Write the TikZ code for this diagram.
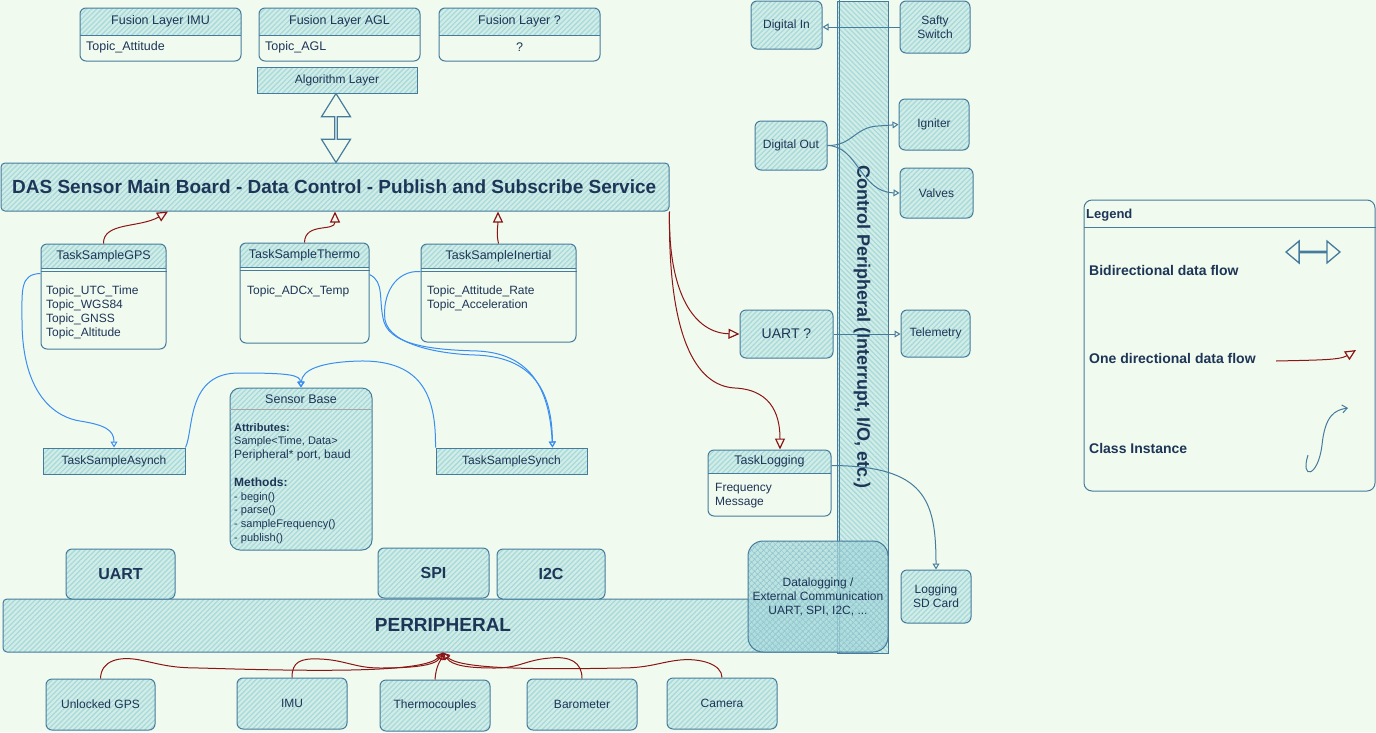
\documentclass[tikz,border=0pt]{standalone}
\usepackage{fontspec}
\setmainfont{Liberation Sans}
\usetikzlibrary{patterns.meta,arrows.meta,shapes.arrows,calc}
\definecolor{bg}{HTML}{F1FAEE}
\definecolor{stk}{HTML}{457B9D}
\definecolor{hat}{HTML}{A8DADC}
\definecolor{txt}{HTML}{1D3557}
\definecolor{rd}{HTML}{8B1414}
\definecolor{cls}{HTML}{3A8EF2}
\colorlet{hbase}{hat!42!bg}
\newcommand\fsz[2]{\fontsize{#1}{#2}\selectfont}
\tikzset{
 hatchfill/.style={preaction={fill=hbase}, pattern={Lines[angle=45,distance=3.6pt,line width=1.3pt]}, pattern color=hat},
 hatchnw/.style={preaction={fill=hbase}, pattern={Lines[angle=-45,distance=3.6pt,line width=1.3pt]}, pattern color=hat},
 xhatch/.style={preaction={fill=hat, fill opacity=0.7}, pattern={Hatch[angle=45,distance=4pt,line width=0.9pt]}, pattern color=hat!80!stk},
 bx/.style={draw=stk, line width=1pt, rounded corners=6pt, inner sep=2pt, text=txt, font=\fsz{12}{14}, align=center},
 hbx/.style={bx, hatchfill},
 lane/.style={draw=stk, line width=1pt, rounded corners=6pt, inner sep=0pt},
 lbl/.style={text=txt, font=\fsz{12.5}{14}, inner sep=0pt},
 bodytxt/.style={text=txt, font=\fsz{12}{14}, inner sep=0pt, align=left, anchor=north west},
 redarr/.style={draw=rd, line width=1pt, -{Triangle[open,length=11pt,width=10pt,line width=1.2pt]}},
 hubarr/.style={draw=rd, line width=1pt, -{Triangle[open,length=7pt,width=7pt]}},
 clsarr/.style={draw=cls, line width=1pt, -{Triangle[open,length=6pt,width=7pt]}},
 stkarr/.style={draw=stk, line width=1pt, -{Triangle[open,length=6pt,width=7pt]}},
}
\newcommand\mklane[7]{%
  \path[hatchfill] (#2,#6) [rounded corners=6pt] -- (#2,#3) -- (#4,#3) [sharp corners] -- (#4,#6) -- cycle;
  \node[lane, minimum width={(#4-#2)*1pt}, minimum height={(#5-#3)*1pt}] (#1) at ({(#2+#4)/2},{(#3+#5)/2}) {};
  \draw[draw=stk, line width=1pt] (#2,#6) -- (#4,#6);
  \node[lbl] (#1-t) at ({(#2+#4)/2},{(#3+#6)/2}) {#7};
}
\begin{document}
\begin{tikzpicture}[x=1pt,y=-1pt]
\useasboundingbox (0,0) rectangle (1376,732);
\fill[bg] (0,0) rectangle (1376,732);

% ---------- fusion layers ----------
\mklane{fimu}{80}{8}{241}{61}{35}{Fusion Layer IMU}
\node[lbl,anchor=west] (fimuB) at (86,47) {Topic\_Attitude};
\mklane{fagl}{259}{8}{420}{61}{35}{Fusion Layer AGL}
\node[lbl,anchor=west] (faglB) at (265,47) {Topic\_AGL};
\mklane{fq}{439}{8}{600}{61}{35}{Fusion Layer ?}
\node[lbl] (fqB) at (519.5,47) {?};

\node[hbx, rounded corners=0pt, minimum width=160pt, minimum height=26pt, inner sep=0pt] (alg) at (337,80) {Algorithm Layer};

% ---------- main board ----------
\node[hbx, rounded corners=4pt, minimum width=668pt, minimum height=48pt, inner sep=0pt] (board) at (335,187) {};
\node[lbl, anchor=west, font=\fsz{19}{23}\bfseries] (boardT) at (12,187) {DAS Sensor Main Board - Data Control - Publish and Subscribe Service};

\node[double arrow, draw=stk, line width=1.2pt, fill=bg, rotate=90, minimum height=69pt, minimum width=29pt, double arrow head extend=6pt, double arrow tip angle=64, inner sep=0pt] (bidir) at ($(alg.south)!0.5!(board.north)$) {};

% ---------- tasks ----------
\mklane{gps}{41}{244}{166}{349}{268}{TaskSampleGPS}
\draw[stk, line width=1pt] ([yshift=-28pt]gps.north west) -- ([yshift=-28pt]gps.north east);
\node[bodytxt] (gpsB) at (46,286) {Topic\_UTC\_Time\\Topic\_WGS84\\Topic\_GNSS\\Topic\_Altitude};

\mklane{thermo}{240}{243}{369}{343}{267}{TaskSampleThermo}
\draw[stk, line width=1pt] ([yshift=-28pt]thermo.north west) -- ([yshift=-28pt]thermo.north east);
\node[bodytxt] (thermoB) at (247,286) {Topic\_ADCx\_Temp};

\mklane{inertial}{421}{244}{576}{342}{268}{TaskSampleInertial}
\draw[stk, line width=1pt] ([yshift=-28pt]inertial.north west) -- ([yshift=-28pt]inertial.north east);
\node[bodytxt] (inertialB) at (427,286) {Topic\_Attitude\_Rate\\Topic\_Acceleration};

% ---------- sensor base ----------
\node[hbx, rounded corners=10pt, minimum width=142pt, minimum height=162pt, inner sep=0pt] (sb) at (301,469) {};
\draw[gray!70, line width=0.8pt] ([yshift=-22pt]sb.north west) -- ([yshift=-22pt]sb.north east);
\node[lbl] (sbt) at (301,399) {Sensor Base};
\node[bodytxt, font=\fsz{11}{13.8}] (sbB) at (234,423) {\textbf{Attributes:}\\Sample<Time, Data>\\{\fsz{12}{13.8}Peripheral* port, baud}\\[13.8pt]{\fsz{12}{13.8}\textbf{Methods:}}\\- begin()\\- parse()\\- sampleFrequency()\\- publish()};

\node[hbx, rounded corners=0pt, minimum width=142pt, minimum height=26pt, inner sep=0pt] (asynch) at (114,461) {TaskSampleAsynch};
\node[hbx, rounded corners=0pt, minimum width=151pt, minimum height=26pt, inner sep=0pt] (synch) at (511.5,461) {TaskSampleSynch};

% ---------- peripheral ----------
\node[hbx, rounded corners=4pt, minimum width=885pt, minimum height=53pt, inner sep=0pt] (per) at (445.5,625.5) {};
\node[lbl, font=\fsz{19}{23}\bfseries] (perT) at (443,625) {PERRIPHERAL};
\node[hbx, minimum width=109pt, minimum height=50pt, inner sep=0pt, font=\fsz{16}{19}\bfseries] (uart) at (120.5,574) {UART};
\node[hbx, minimum width=111pt, minimum height=50pt, inner sep=0pt, font=\fsz{16}{19}\bfseries] (spi) at (433.5,573) {SPI};
\node[hbx, minimum width=108pt, minimum height=50pt, inner sep=0pt, font=\fsz{16}{19}\bfseries] (itc) at (551,574) {I2C};

% ---------- control peripheral ----------
\node[draw=stk, line width=1pt, hatchnw, minimum width=51pt, minimum height=652pt, inner sep=0pt] (ctrl) at (862.5,327) {};
\draw[stk, line width=0.8pt] ([xshift=3pt]ctrl.north west) -- ([xshift=3pt]ctrl.south west);
\node[lbl, rotate=-90, font=\fsz{18}{21}\bfseries] (ctrlT) at (862,327) {Control Peripheral (Interrupt, I/O, etc.)};

\node[draw=stk, line width=1pt, rounded corners=15pt, xhatch, minimum width=140pt, minimum height=111pt, inner sep=0pt, text=txt, font=\fsz{12}{14}, align=center] (dlog) at (818,596.5) {Datalogging /\\External Communication\\UART, SPI, I2C, ...};

% ---------- right boxes ----------
\node[hbx, minimum width=71pt, minimum height=48pt, inner sep=0pt] (din) at (786.5,25) {Digital In};
\node[hbx, minimum width=70pt, minimum height=52pt, inner sep=0pt] (safety) at (935,27) {Safty\\Switch};
\node[hbx, minimum width=72pt, minimum height=49pt, inner sep=0pt] (dout) at (791,145.5) {Digital Out};
\node[hbx, minimum width=70pt, minimum height=51pt, inner sep=0pt] (igniter) at (934,124.5) {Igniter};
\node[hbx, minimum width=73pt, minimum height=50pt, inner sep=0pt] (valves) at (936.5,193) {Valves};
\node[hbx, minimum width=93pt, minimum height=48pt, inner sep=0pt, font=\fsz{14}{17}] (uartq) at (786.5,334) {UART ?};
\node[hbx, minimum width=69pt, minimum height=47pt, inner sep=0pt] (tele) at (935.5,333.5) {Telemetry};
\mklane{tl}{708}{450}{831}{516}{473}{TaskLogging}
\node[bodytxt] (tlB) at (715,483) {Frequency\\Message};
\node[hbx, minimum width=70pt, minimum height=53pt, inner sep=0pt] (sd) at (936,596.5) {Logging\\SD Card};

% ---------- sensors ----------
\node[hbx, minimum width=109pt, minimum height=51pt, inner sep=0pt] (ugps) at (100.5,704.5) {Unlocked GPS};
\node[hbx, minimum width=110pt, minimum height=51pt, inner sep=0pt] (imu) at (292,703.5) {IMU};
\node[hbx, minimum width=110pt, minimum height=51pt, inner sep=0pt] (tc) at (435,705.5) {Thermocouples};
\node[hbx, minimum width=110pt, minimum height=51pt, inner sep=0pt] (baro) at (582,704.5) {Barometer};
\node[hbx, minimum width=110pt, minimum height=51pt, inner sep=0pt] (cam) at (722,703.5) {Camera};

% ---------- red data flows ----------
\draw[redarr] (gps.north) .. controls (103,222) and (140,228) .. ([xshift=-167pt]board.south);
\draw[redarr] (thermo.north) .. controls (305,222) and (335,232) .. ([xshift=0pt]board.south);
\draw[redarr] (inertial.north) .. controls (496,232) and (498,226) .. ([xshift=163pt]board.south);
\draw[redarr] (board.south east) .. controls (668,295) and (695,333) .. (uartq.west);
\draw[redarr] (board.south east) .. controls (668,335) and (695,386) .. (735,388) .. controls (775,390) and (780,420) .. ([xshift=10.5pt]tl.north);

\coordinate (hub) at ([xshift=-2.5pt]per.south);
\draw[hubarr] (ugps.north) .. controls (101,660) and (120,656) .. (140,660) .. controls (160,664) and (170,668) .. (200,668) .. controls (330,672) and (425,672) .. (hub);
\draw[hubarr] (imu.north) .. controls (292,662) and (300,658) .. (320,659) .. controls (345,660) and (355,668) .. (380,668) .. controls (410,668) and (435,666) .. (hub);
\draw[hubarr] (tc.north) .. controls (436,665) and (441,660) .. (hub);
\draw[hubarr] (baro.north) .. controls (582,662) and (570,656) .. (550,658) .. controls (525,660) and (520,668) .. (495,668) .. controls (470,668) and (452,666) .. (hub);
\draw[hubarr] (cam.north) .. controls (722,664) and (700,658) .. (680,660) .. controls (660,662) and (650,668) .. (620,668) .. controls (520,670) and (458,668) .. (hub);

% ---------- class instance arrows ----------
\draw[clsarr] ([yshift=-30pt]gps.north west) .. controls (20,274) and (22,290) .. (22,320) .. controls (22,400) and (60,418) .. (80,421) .. controls (105,425) and (114,430) .. (asynch.north);
\draw[clsarr] (asynch.north east) .. controls (194,430) and (186,372) .. (240,373) .. controls (290,373) and (300,375) .. (sb.north);
\draw[clsarr] (synch.north west) .. controls (436,400) and (425,360) .. (360,361) .. controls (320,362) and (302,370) .. (sb.north);
\draw[clsarr] ([yshift=-28pt]inertial.north west) .. controls (395,270) and (382,295) .. (385,320) .. controls (390,345) and (440,354) .. (475,355) .. controls (540,357) and (552,400) .. ([xshift=41pt]synch.north);
\draw[clsarr] ([yshift=-32pt]thermo.north east) .. controls (385,282) and (378,300) .. (384,322) .. controls (392,347) and (440,350) .. (478,351) .. controls (538,354) and (550,400) .. ([xshift=41pt]synch.north);

% ---------- control arrows ----------
\draw[stkarr] (safety.west) -- (safety.west -| din.east);
\draw[stkarr] (dout.east) .. controls (852,146) and (855,127) .. (878,126) -- (igniter.west);
\draw[stkarr] (dout.east) .. controls (858,146) and (860,192) .. (valves.west);
\draw[stkarr] (uartq.east) -- (uartq.east -| tele.west);
\draw[stkarr] ([yshift=-16pt]tl.north east) .. controls (925,466) and (936,500) .. (sd.north);

% ---------- legend ----------
\node[draw=stk, line width=1pt, rounded corners=8pt, minimum width=291pt, minimum height=291pt, inner sep=0pt] (leg) at (1229.5,345.5) {};
\draw[stk, line width=1pt] ([yshift=-28pt]leg.north west) -- ([yshift=-28pt]leg.north east);
\node[lbl, anchor=west, font=\fsz{13}{15}\bfseries] (legT) at (1086,215) {Legend};
\node[lbl, anchor=west, font=\fsz{14}{17}\bfseries] (l1) at (1089,270) {Bidirectional data flow};
\node[lbl, anchor=west, font=\fsz{14}{17}\bfseries] (l2) at (1089,358) {One directional data flow};
\node[lbl, anchor=west, font=\fsz{14}{17}\bfseries] (l3) at (1089,448) {Class Instance};
\node[double arrow, draw=stk, line width=1.3pt, fill=bg, minimum height=54pt, minimum width=22pt, double arrow head extend=8pt, double arrow tip angle=80, inner sep=0pt] (lbi) at (1313,252) {};
\coordinate (lr1) at (1276,361);
\coordinate (lr2) at (1356,350);
\draw[redarr] (lr1) .. controls (1320,360) and (1340,360) .. (lr2);
\coordinate (lc1) at (1308,455);
\coordinate (lc2) at (1348,408);
\draw[draw=stk, line width=1pt, -{Straight Barb[length=5pt,width=8pt]}] (lc1) .. controls (1300,480) and (1318,478) .. (1322,445) .. controls (1325,415) and (1335,410) .. (lc2);
\end{tikzpicture}
\end{document}
